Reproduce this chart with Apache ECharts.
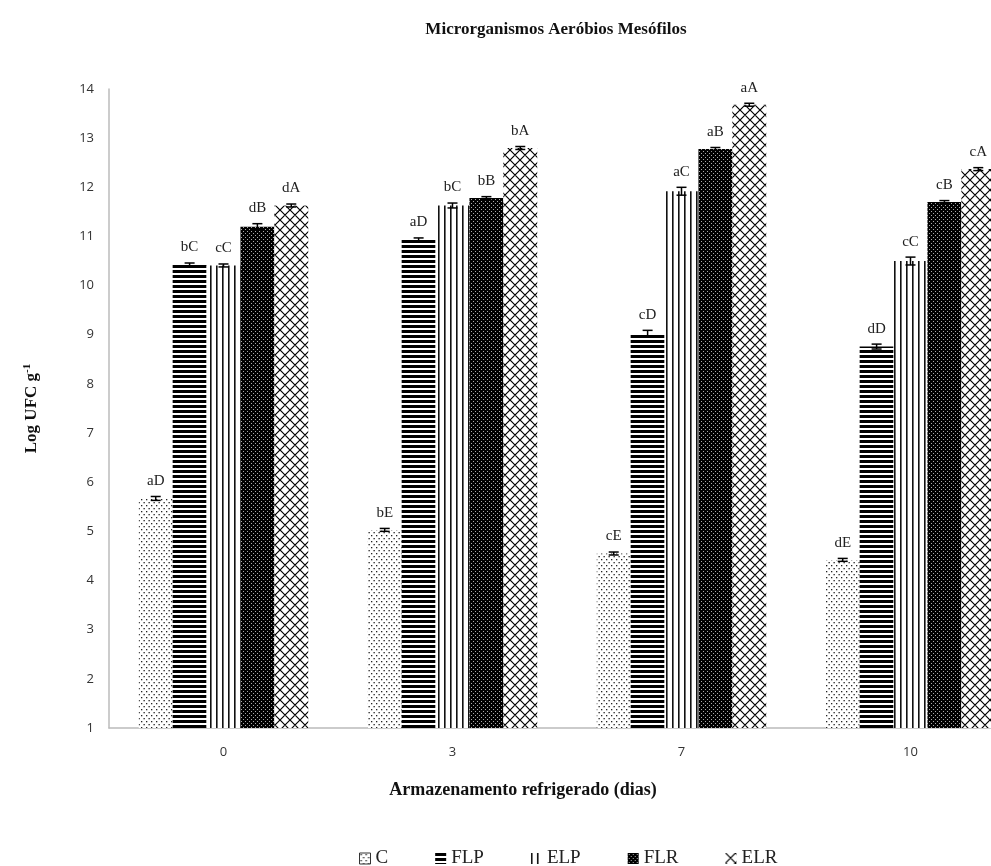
<!DOCTYPE html>
<html>
<head>
<meta charset="utf-8">
<script src="https://cdn.jsdelivr.net/npm/echarts@6/dist/echarts.min.js"></script>
<style>
  html, body { margin: 0; padding: 0; background: #fff; }
  #chart { width: 991px; height: 866px; }
</style>
</head>
<body>
<div id="chart"></div>
<script>
// Storage days (x categories)
const categories = ['0', '3', '7', '10'];
const seriesNames = ['C', 'FLP', 'ELP', 'FLR', 'ELR'];

// Mean log counts per treatment
const valuesC   = [5.67, 5.03, 4.55, 4.42];
const valuesFLP = [10.43, 10.93, 9.03, 8.76];
const valuesELP = [10.41, 11.63, 11.92, 10.50];
const valuesFLR = [11.20, 11.78, 12.78, 11.70];
const valuesELR = [11.63, 12.80, 13.68, 12.37];

// Standard deviations
const errC   = [0.04, 0.03, 0.03, 0.03];
const errFLP = [0.03, 0.04, 0.06, 0.05];
const errELP = [0.03, 0.05, 0.08, 0.08];
const errFLR = [0.06, 0.03, 0.03, 0.03];
const errELR = [0.03, 0.03, 0.03, 0.03];

// Significance letters
const lettersC   = ['aD', 'bE', 'cE', 'dE'];
const lettersFLP = ['bC', 'aD', 'cD', 'dD'];
const lettersELP = ['cC', 'bC', 'aC', 'cC'];
const lettersFLR = ['dB', 'bB', 'aB', 'cB'];
const lettersELR = ['dA', 'bA', 'aA', 'cA'];

// Y axis ticks
const yMin = 1, yMax = 14, yStep = 1;

const allValues = [valuesC, valuesFLP, valuesELP, valuesFLR, valuesELR];
const allErr = [errC, errFLP, errELP, errFLR, errELR];
const allLetters = [lettersC, lettersFLP, lettersELP, lettersFLR, lettersELR];

// Monochrome fill patterns
function pattern(kind) {
  const c = document.createElement('canvas');
  const ctx = c.getContext('2d');
  if (kind === 'dots') {
    c.width = 5; c.height = 6;
    ctx.fillStyle = '#fff'; ctx.fillRect(0, 0, 5, 6);
    ctx.fillStyle = '#222';
    ctx.fillRect(1, 1, 1.3, 1.3);
    ctx.fillRect(3.5, 4, 1.3, 1.3);
  } else if (kind === 'hstripes') {
    c.width = 4; c.height = 5;
    ctx.fillStyle = '#fff'; ctx.fillRect(0, 0, 4, 5);
    ctx.fillStyle = '#000'; ctx.fillRect(0, 0, 4, 3);
  } else if (kind === 'vlines') {
    c.width = 6; c.height = 4;
    ctx.fillStyle = '#fff'; ctx.fillRect(0, 0, 6, 4);
    ctx.fillStyle = '#111'; ctx.fillRect(0, 0, 1.6, 4);
  } else if (kind === 'darkdots') {
    c.width = 4; c.height = 4;
    ctx.fillStyle = '#000'; ctx.fillRect(0, 0, 4, 4);
    ctx.fillStyle = '#aaa';
    ctx.fillRect(1, 1, 1, 1);
    ctx.fillRect(3, 3, 1, 1);
  } else {
    c.width = 10; c.height = 10;
    ctx.fillStyle = '#fff'; ctx.fillRect(0, 0, 10, 10);
    ctx.strokeStyle = '#000'; ctx.lineWidth = 1.2;
    ctx.beginPath();
    ctx.moveTo(0, 0); ctx.lineTo(10, 10);
    ctx.moveTo(10, 0); ctx.lineTo(0, 10);
    ctx.moveTo(-5, 5); ctx.lineTo(5, 15);
    ctx.moveTo(5, -5); ctx.lineTo(15, 5);
    ctx.moveTo(15, 5); ctx.lineTo(5, 15);
    ctx.moveTo(5, -5); ctx.lineTo(-5, 5);
    ctx.stroke();
  }
  return { image: c, repeat: 'repeat' };
}
const fills = [pattern('dots'), pattern('hstripes'), pattern('vlines'), pattern('darkdots'), pattern('cross')];

const catGap = 0.26;
const serif = '"Liberation Serif", "DejaVu Serif", serif';

const barSeries = seriesNames.map((name, i) => ({
  name: name,
  type: 'bar',
  data: allValues[i],
  barGap: '0%',
  barCategoryGap: (catGap * 100) + '%',
  itemStyle: { color: fills[i] },
  z: 2
}));

// Error bars and letters drawn on top of each bar
const errSeries = seriesNames.map((name, i) => ({
  name: name + '-err',
  type: 'custom',
  z: 5,
  data: allValues[i].map((v, k) => [k, v, allErr[i][k]]),
  renderItem: function (params, api) {
    const k = api.value(0), v = api.value(1), e = api.value(2);
    const band = api.size([1, 0])[0];
    const bw = band * (1 - catGap) / seriesNames.length;
    const off = (i - (seriesNames.length - 1) / 2) * bw;
    const hi = api.coord([k, v + e]);
    const lo = api.coord([k, v - e]);
    const x = hi[0] + off;
    const cap = 5;
    const st = { stroke: '#000', lineWidth: 1.5 };
    return {
      type: 'group',
      children: [
        { type: 'line', shape: { x1: x, y1: hi[1], x2: x, y2: lo[1] }, style: st },
        { type: 'line', shape: { x1: x - cap, y1: hi[1], x2: x + cap, y2: hi[1] }, style: st },
        { type: 'line', shape: { x1: x - cap, y1: lo[1], x2: x + cap, y2: lo[1] }, style: st },
        {
          type: 'text',
          x: x, y: hi[1] - 8,
          style: {
            text: allLetters[i][params.dataIndex],
            align: 'center', verticalAlign: 'bottom',
            font: '15px ' + serif, fill: '#222'
          }
        }
      ]
    };
  }
}));

const chart = echarts.init(document.getElementById('chart'), null, { renderer: 'canvas' });
chart.setOption({
  backgroundColor: '#fff',
  animation: false,
  title: [
    {
      text: 'Microrganismos Aeróbios Mesófilos',
      left: 551, top: 16, textAlign: 'center',
      textStyle: { fontFamily: serif, fontWeight: 'bold', fontSize: 17, color: '#111' }
    },
    {
      text: 'Armazenamento refrigerado (dias)',
      left: 518, top: 776, textAlign: 'center',
      textStyle: { fontFamily: serif, fontWeight: 'bold', fontSize: 18, color: '#111' }
    }
  ],
  legend: {
    data: seriesNames.map((n, i) => i === 0
      ? { name: n, itemStyle: { borderColor: '#333', borderWidth: 1 } }
      : { name: n }),
    left: 354, top: 844,
    itemWidth: 11, itemHeight: 11, itemGap: 47,
    icon: 'rect',
    textStyle: { fontFamily: serif, fontSize: 19, color: '#222' }
  },
  grid: { left: 109, top: 89, width: 916, bottom: 138, containLabel: false, outerBoundsMode: 'none' },
  xAxis: {
    type: 'category',
    data: categories,
    axisLine: { lineStyle: { color: '#bbb', width: 1.5 } },
    axisTick: { show: false },
    axisLabel: { color: '#333', fontSize: 13, margin: 18, fontFamily: '"Open Sans", sans-serif' }
  },
  yAxis: {
    type: 'value',
    min: yMin, max: yMax, interval: yStep,
    name: 'Log UFC g{sup|-1}',
    nameLocation: 'middle',
    nameGap: 67,
    nameTextStyle: {
      fontFamily: serif, fontWeight: 'bold', fontSize: 17, color: '#111',
      rich: { sup: { fontFamily: serif, fontWeight: 'bold', fontSize: 11, color: '#111', padding: [0, 0, 9, 0] } }
    },
    axisLine: { show: true, lineStyle: { color: '#bbb', width: 1.5 } },
    axisTick: { show: false },
    splitLine: { show: false },
    axisLabel: { color: '#333', fontSize: 13, margin: 15, fontFamily: '"Open Sans", sans-serif' }
  },
  series: barSeries.concat(errSeries)
});
</script>
</body>
</html>
